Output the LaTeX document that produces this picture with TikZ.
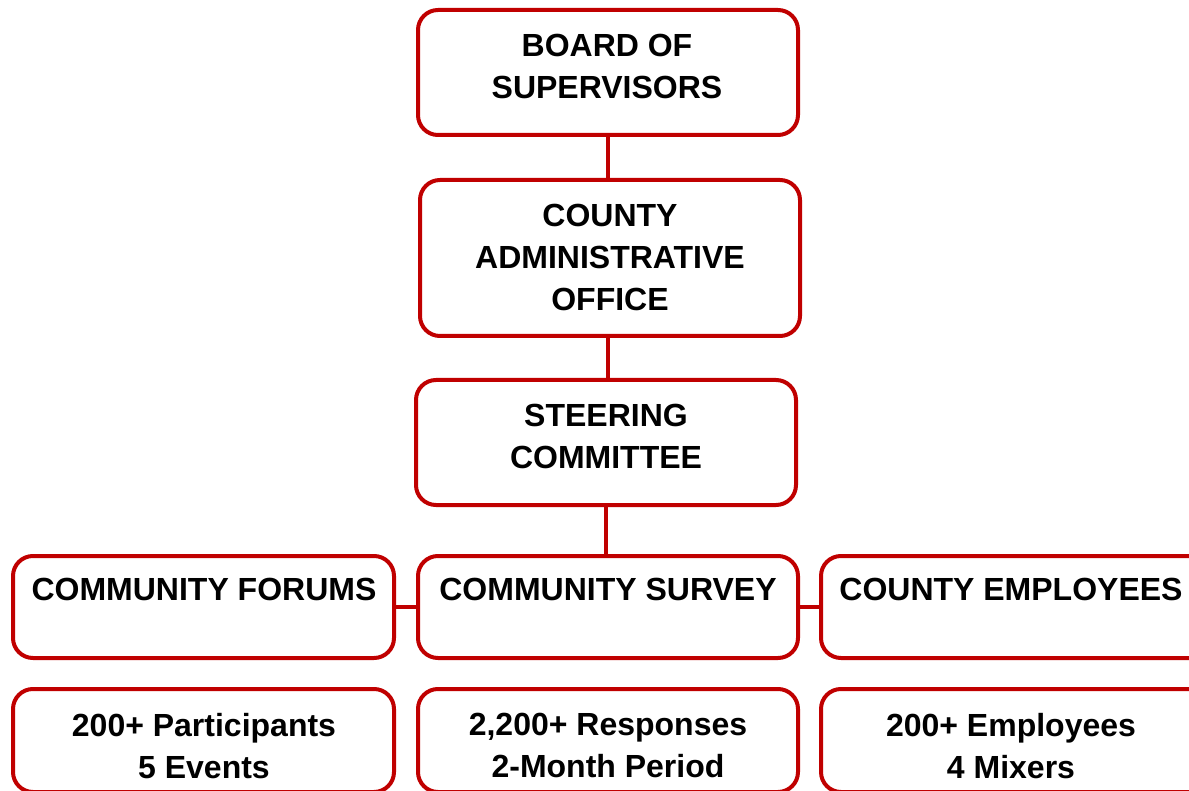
\documentclass[tikz,border=0pt]{standalone}
\usepackage{fontspec}
\setmainfont{Liberation Sans}
\definecolor{boxred}{HTML}{C00000}
\begin{document}
\begin{tikzpicture}[x=1pt,y=1pt,
  box/.style={draw=boxred, line width=4pt, rounded corners=20pt, rectangle, minimum width=380pt, inner sep=0pt, fill=white},
  lbl/.style={anchor=north, inner sep=0pt, align=center, font=\bfseries\fontsize{32}{42}\selectfont, text=black},
  conn/.style={draw=boxred, line width=4pt}]
\useasboundingbox (0,0) rectangle (1189,-791);
\clip (0,0) rectangle (1189,-791);
\fill[white] (0,0) rectangle (1189,-791);
% boxes
\node[box, minimum height=125pt] (bos) at (608,-72.5) {};
\node[box, minimum height=156pt] (cao) at (610,-258) {};
\node[box, minimum height=125pt] (sc) at (606,-442.5) {};
\node[box, minimum width=381pt, minimum height=102pt] (cf) at (203.5,-607) {};
\node[box, minimum height=102pt] (cs) at (608,-607) {};
\node[box, minimum width=401pt, minimum height=102pt] (ce) at (1021.5,-607) {};
\node[box, minimum width=381pt, minimum height=103pt] (cfd) at (203.5,-740.5) {};
\node[box, minimum height=103pt] (csd) at (608,-740.5) {};
\node[box, minimum width=401pt, minimum height=103pt] (ced) at (1021.5,-740.5) {};
% connectors
\draw[conn] (bos.south) -- (bos.south |- cao.north);
\draw[conn] (cao.south -| bos.south) -- (bos.south |- sc.north);
\draw[conn] (sc.south) -- (sc.south |- cs.north);
\draw[conn] (cf.east) -- (cs.west);
\draw[conn] (cs.east) -- (ce.west);
% labels
\node[lbl] (tbos) at (607,-34) {BOARD OF\\SUPERVISORS};
\node[lbl] (tcao) at (610,-204) {COUNTY\\ADMINISTRATIVE\\OFFICE};
\node[lbl] (tsc) at (606,-404) {STEERING\\COMMITTEE};
\node[lbl] (tcf) at (204,-578) {COMMUNITY FORUMS};
\node[lbl] (tcs) at (608,-578) {COMMUNITY SURVEY};
\node[lbl] (tce) at (1011,-578) {COUNTY EMPLOYEES};
\node[lbl] (tcfd) at (204,-713) {200+ Participants\\5 Events};
\node[lbl] (tcsd) at (608,-713) {2,200+ Responses\\2-Month Period};
\node[lbl] (tced) at (1011,-713) {200+ Employees\\4 Mixers};
\end{tikzpicture}
\end{document}
